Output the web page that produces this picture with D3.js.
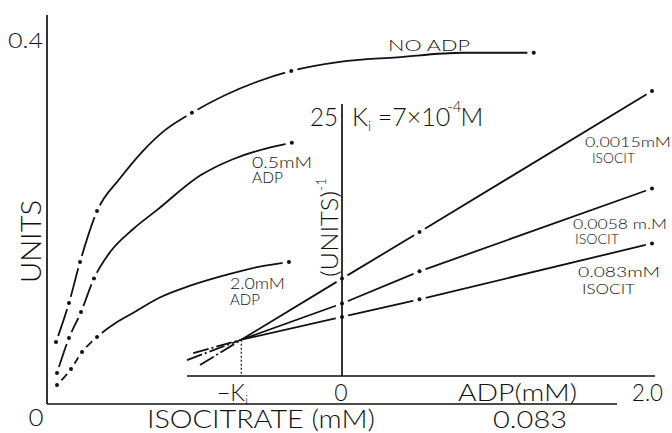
<!DOCTYPE html>
<meta charset="utf-8">
<style>
body { margin: 0; background: #fff; }
text { font-family: "Lato", "Open Sans", "DejaVu Sans", sans-serif; font-weight: 300; fill: #111; }
.curve { fill: none; stroke: #111; stroke-width: 1.8px; }
</style>
<svg width="672" height="433"></svg>
<script src="https://d3js.org/d3.v7.min.js"></script>
<script>

// ---- main plot: rate (units) vs isocitrate (mM), three ADP levels ----
// measured points (the dots)
var noAdpConc = [0.00154, 0.00376, 0.00565, 0.00856, 0.0248, 0.0418, 0.0833];
var noAdpRate = [0.068, 0.111, 0.156, 0.212, 0.320, 0.366, 0.386];
var halfAdpConc = [0.00171, 0.00376, 0.00582, 0.00804, 0.0419];
var halfAdpRate = [0.034, 0.0725, 0.101, 0.138, 0.287];
var twoAdpConc = [0.00171, 0.00411, 0.00599, 0.00856, 0.0414];
var twoAdpRate = [0.0209, 0.0385, 0.0571, 0.0736, 0.156];

// points
var noAdpTraceConc = [0.0125, 0.0164, 0.0202, 0.0501, 0.0599, 0.0712];
var noAdpTraceRate = [0.248, 0.278, 0.301, 0.376, 0.381, 0.386];
var halfAdpTraceConc = [0.0108, 0.0147, 0.0188, 0.0262, 0.0318, 0.0376];
var halfAdpTraceRate = [0.167, 0.192, 0.213, 0.251, 0.269, 0.281];
var twoAdpTraceConc = [0.0120, 0.0147, 0.0193, 0.0245, 0.0313, 0.0364];
var twoAdpTraceRate = [0.0901, 0.100, 0.117, 0.130, 0.143, 0.151];

// ---- inset: Dixon plot, 1/rate vs ADP (mM) ----
var adpConc = [0, 0.5, 2.0];
var invRateLow = [9.4, 13.9, 27.5];   // 0.0015 mM isocitrate
var invRateMid = [7.0, 10.1, 18.1];   // 0.0058 mM
var invRateHigh = [5.7, 7.4, 12.8];   // 0.083 mM
// extrapolated ends (left of the crossing) and the crossing at -Ki
var extrapAdp = [-0.916, -1.0, -0.96];
var extrapInv = [1.06, 1.54, 2.2];
var crossAdp = -0.65, crossInv = 3.5;

var svg = d3.select("svg");

var x = d3.scaleLinear().domain([0, 0.083]).range([47, 532]);
var y = d3.scaleLinear().domain([0, 0.4]).range([404, 40]);
var xi = d3.scaleLinear().domain([0, 2.0]).range([342, 652]);
var yi = d3.scaleLinear().domain([0, 25]).range([376, 117]);

function zip(a, b) { return a.map(function(v, i) { return [v, b[i]]; }); }

var line = d3.line().curve(d3.curveMonotoneX)
  .x(function(d) { return x(d[0]); })
  .y(function(d) { return y(d[1]); });

var mainSeries = [
  {dots: zip(noAdpConc, noAdpRate), trace: zip(noAdpTraceConc, noAdpTraceRate)},
  {dots: zip(halfAdpConc, halfAdpRate), trace: zip(halfAdpTraceConc, halfAdpTraceRate)},
  {dots: zip(twoAdpConc, twoAdpRate), trace: zip(twoAdpTraceConc, twoAdpTraceRate)}
];

mainSeries.forEach(function(s) {
  var pts = s.dots.concat(s.trace).sort(function(a, b) { return a[0] - b[0]; });
  svg.append("path").attr("class", "curve").attr("d", line(pts));
});

// inset lines
var insetLine = d3.line()
  .x(function(d) { return xi(d[0]); })
  .y(function(d) { return yi(d[1]); });

var insetSeries = [invRateLow, invRateMid, invRateHigh];
insetSeries.forEach(function(vals, i) {
  var left = [[extrapAdp[i], extrapInv[i]], [crossAdp, crossInv]];
  var right = [[crossAdp, crossInv]].concat(zip(adpConc, vals));
  svg.append("path").attr("class", "curve").attr("d", insetLine(left))
    .attr("stroke-dasharray", "16,3,2,3");
  svg.append("path").attr("class", "curve").attr("d", insetLine(right));
});

// gaps in the lines at each point
var allDots = [];
mainSeries.forEach(function(s) {
  s.dots.forEach(function(d) { allDots.push([x(d[0]), y(d[1])]); });
});
insetSeries.forEach(function(vals) {
  zip(adpConc, vals).forEach(function(d) {
    allDots.push([xi(d[0]), yi(d[1])]);
  });
});

svg.selectAll(".gap").data(allDots).enter().append("circle")
  .attr("class", "gap")
  .attr("cx", function(d) { return d[0]; })
  .attr("cy", function(d) { return d[1]; })
  .attr("r", 6.5).attr("fill", "#fff");

// axes (plain lines, as in the figure)
svg.append("line").attr("x1", x(0)).attr("x2", x(0)).attr("y1", 15).attr("y2", y(0))
  .attr("stroke", "#111").attr("stroke-width", 1.7);
svg.append("line").attr("x1", x(0)).attr("x2", 617).attr("y1", y(0)).attr("y2", y(0))
  .attr("stroke", "#111").attr("stroke-width", 1.4);
svg.append("line").attr("x1", xi(0)).attr("x2", xi(0)).attr("y1", 104).attr("y2", yi(0))
  .attr("stroke", "#111").attr("stroke-width", 1.7);
svg.append("line").attr("x1", 187).attr("x2", 655).attr("y1", yi(0)).attr("y2", yi(0))
  .attr("stroke", "#111").attr("stroke-width", 1.5);

// dotted drop line at -Ki
svg.append("line").attr("x1", xi(crossAdp)).attr("x2", xi(crossAdp))
  .attr("y1", yi(crossInv)).attr("y2", yi(0))
  .attr("stroke", "#111").attr("stroke-width", 1.2).attr("stroke-dasharray", "2,2");

svg.selectAll(".dot").data(allDots).enter().append("circle")
  .attr("class", "dot")
  .attr("cx", function(d) { return d[0]; })
  .attr("cy", function(d) { return d[1]; })
  .attr("r", 2).attr("fill", "#111");

// ---- labels ----
function label(txt, px, py, size, anchor, len) {
  var t = svg.append("text").attr("x", px).attr("y", py)
    .attr("font-size", size).attr("text-anchor", anchor || "start").text(txt);
  if (len) t.attr("textLength", len).attr("lengthAdjust", "spacingAndGlyphs");
  return t;
}

label("0.4", 43, 48, 21, "end", 35);
label("0", 36, 426, 23, "middle", 15);
label("ISOCITRATE (mM)", 147, 428, 26, "start", 228);
label("0.083", 493, 428, 23, "start", 74);
svg.append("text").attr("transform", "translate(41,283) rotate(-90)")
  .attr("font-size", 27).attr("textLength", 83).attr("lengthAdjust", "spacingAndGlyphs")
  .text("UNITS");

label("NO ADP", 388, 51, 16, "start", 82);
label("0.5mM", 252, 168, 15, "start", 60);
label("ADP", 252, 183, 15, "start", 31);
label("2.0mM", 230, 289, 16, "start", 55);
label("ADP", 230, 305, 16, "start", 30);

// inset labels
label("25", 338, 126, 25, "end", 28);
var ki = svg.append("text").attr("x", 352).attr("y", 126).attr("font-size", 25);
ki.append("tspan").text("K");
ki.append("tspan").attr("font-size", 14).attr("dy", 5).text("i");
ki.append("tspan").attr("dy", -5).text(" =7×10");
ki.append("tspan").attr("font-size", 15).attr("dx", -3).attr("dy", -14).text("-4");
ki.append("tspan").attr("dx", -1).attr("dy", 14).text("M");

var u = svg.append("text").attr("transform", "translate(338,277) rotate(-90)")
  .attr("font-size", 24);
u.append("tspan").attr("textLength", 86).attr("lengthAdjust", "spacingAndGlyphs").text("(UNITS)");
u.append("tspan").attr("font-size", 14).attr("dy", -12).text("-1");

var mk = svg.append("text").attr("x", 217).attr("y", 401).attr("font-size", 23);
mk.append("tspan").text("\u2212K");
mk.append("tspan").attr("font-size", 14).attr("dy", 4).text("i");
label("0", 341, 401, 23, "middle");
label("ADP(mM)", 458, 401, 24, "start", 119);
label("2.0", 632, 401, 23, "start", 31);

label("0.0015mM", 585, 147, 14, "start", 86);
label("ISOCIT", 592, 163, 14, "start", 43);
label("0.0058 m.M", 573, 229, 14, "start", 94);
label("ISOCIT", 575, 244, 14, "start", 44);
label("0.083mM", 578, 277, 14, "start", 82);
label("ISOCIT", 582, 294, 14, "start", 53);

</script>
